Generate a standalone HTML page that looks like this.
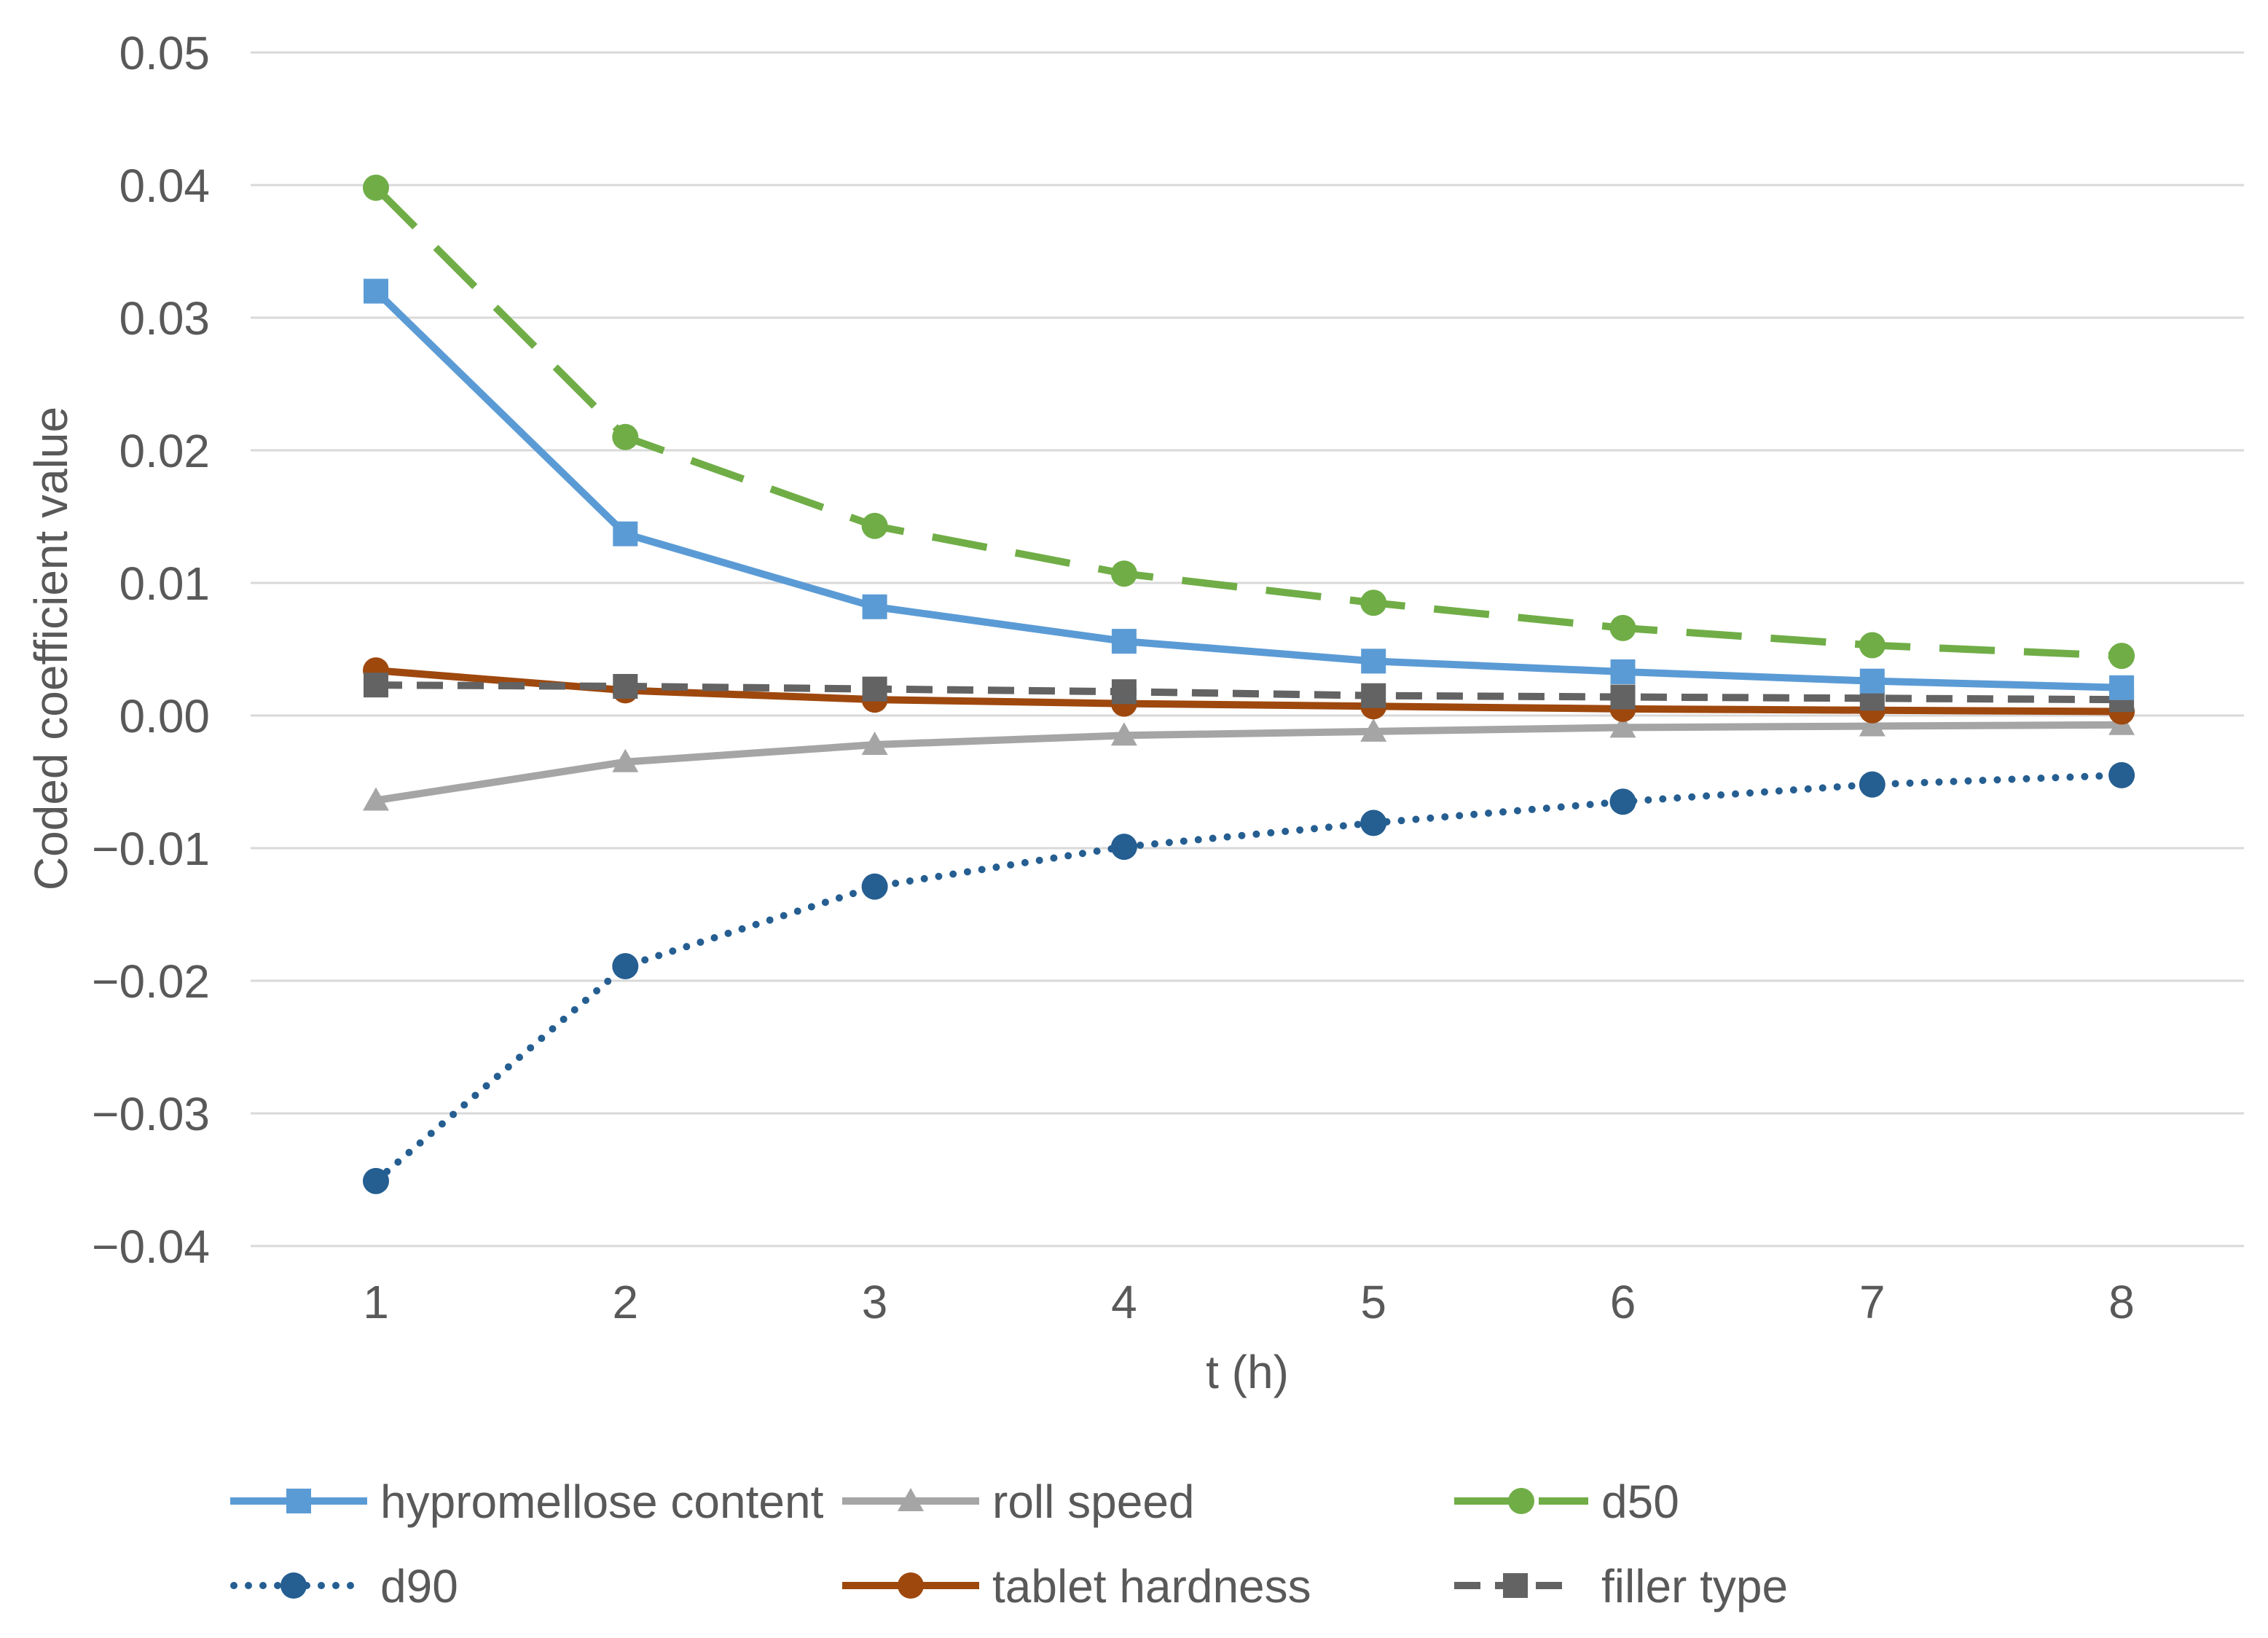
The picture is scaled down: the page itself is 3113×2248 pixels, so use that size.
<!DOCTYPE html>
<html><head><meta charset="utf-8"><style>
html,body{margin:0;padding:0;background:#fff;}
svg{display:block;font-family:"Liberation Sans",sans-serif;}
</style></head><body>
<svg id="chart" width="3113" height="2248" viewBox="0 0 3113 2248"></svg>
<script>
const categories=[1,2,3,4,5,6,7,8];
const yTicks=[0.05,0.04,0.03,0.02,0.01,0,-0.01,-0.02,-0.03,-0.04];
const yTickLabels=["0.05","0.04","0.03","0.02","0.01","0.00","\u22120.01","\u22120.02","\u22120.03","\u22120.04"];
const hypromellose=[0.032,0.0137,0.0082,0.0056,0.0041,0.0033,0.0026,0.0021];
const rollSpeed=[-0.0064,-0.0035,-0.0022,-0.0015,-0.0012,-0.0009,-0.0008,-0.0007];
const d50=[0.0398,0.021,0.0143,0.0107,0.0085,0.0066,0.0053,0.0045];
const d90=[-0.0351,-0.0189,-0.0129,-0.0099,-0.0081,-0.0065,-0.0052,-0.0045];
const tabletHardness=[0.0034,0.0019,0.0012,0.0009,0.0007,0.0005,0.0004,0.0003];
const fillerType=[0.0023,0.0022,0.002,0.0018,0.0015,0.0014,0.0013,0.0012];

const NS="http://www.w3.org/2000/svg";
const svg=document.getElementById('chart');
const FS=64;
function xs(c){return 516+(c-1)*342.3;}
function ys(v){return 982-v*18200;}
function el(tag,attrs,parent){const e=document.createElementNS(NS,tag);for(const k in attrs)e.setAttribute(k,attrs[k]);(parent||svg).appendChild(e);return e;}

yTicks.forEach((t,i)=>{
  const g=el('line',{x1:344,x2:3080,y1:ys(t),y2:ys(t),stroke:'#d9d9d9','stroke-width':3});
  
  
  const tx=el('text',{x:288,y:ys(t)+23,'text-anchor':'end','font-size':FS,fill:'#595959'});
  tx.textContent=yTickLabels[i];
  
  
});
categories.forEach(c=>{
  const tx=el('text',{x:xs(c),y:1809,'text-anchor':'middle','font-size':FS,fill:'#595959'});
  tx.textContent=String(c);
  
  
});
const xt=el('text',{x:1712,y:1905,'text-anchor':'middle','font-size':FS,fill:'#595959'});
xt.textContent='t (h)';


const yt=el('text',{x:0,y:0,'text-anchor':'middle','font-size':FS,fill:'#595959',transform:'translate(92,890) rotate(-90)'});
yt.textContent='Coded coefficient value';



const series=[
 {name:'hypromellose content',data:hypromellose,color:'#5B9BD5',dash:'',marker:'square',id:'hypromellose'},
 {name:'roll speed',data:rollSpeed,color:'#A5A5A5',dash:'',marker:'triangle',id:'roll-speed'},
 {name:'d50',data:d50,color:'#70AD47',dash:'76 40',marker:'circle',id:'d50'},
 {name:'d90',data:d90,color:'#255E91',dash:'0 20',marker:'circle',id:'d90'},
 {name:'tablet hardness',data:tabletHardness,color:'#9E480E',dash:'',marker:'circle',id:'tablet-hardness'},
 {name:'filler type',data:fillerType,color:'#636363',dash:'36 20',marker:'square',id:'filler-type'}
];
function marker(type,x,y,color,parent){
  let m;
  if(type==='square') m=el('rect',{x:x-17,y:y-17,width:34,height:34,fill:color},parent);
  else if(type==='triangle') m=el('polygon',{points:`${x},${y-18} ${x+18},${y+14} ${x-18},${y+14}`,fill:color},parent);
  else m=el('circle',{cx:x,cy:y,r:18,fill:color},parent);
  return m;
}
const order=['roll-speed','tablet-hardness','filler-type','hypromellose','d50','d90'];
order.forEach(id=>{
  const s=series.find(q=>q.id===id);
  const g=el('g',{});
  
  
  const pts=s.data.map((v,i)=>xs(categories[i])+','+ys(v)).join(' ');
  const a={points:pts,fill:'none',stroke:s.color,'stroke-width':10,'stroke-linejoin':'round'};
  if(s.dash){a['stroke-dasharray']=s.dash;}
  if(s.id==='d90')a['stroke-linecap']='round';
  const pl=el('polyline',a,g);
  
  
  s.data.forEach((v,i)=>{
    const m=marker(s.marker,xs(categories[i]),ys(v),s.color,g);
    
    
  });
});
const leg=[
 {id:'hypromellose',x1:316,x2:504,ty:2060,tx:522},
 {id:'roll-speed',x1:1156,x2:1344,ty:2060,tx:1362},
 {id:'d50',x1:1996,x2:2180,ty:2060,tx:2198},
 {id:'d90',x1:316,x2:490,ty:2176,tx:522},
 {id:'tablet-hardness',x1:1156,x2:1344,ty:2176,tx:1362},
 {id:'filler-type',x1:1996,x2:2164,ty:2176,tx:2198}
];
leg.forEach(l=>{
  const s=series.find(q=>q.id===l.id);
  const g=el('g',{});
  
  
  const a={x1:l.x1,x2:l.x2,y1:l.ty,y2:l.ty,stroke:s.color,'stroke-width':10};
  if(s.dash)a['stroke-dasharray']=s.dash;
  if(s.id==='d90'){a['stroke-linecap']='round';a.x1=l.x1+5;}
  el('line',a,g);
  marker(s.marker,(l.x1+l.x2)/2,l.ty,s.color,g);
  const t=el('text',{x:l.tx,y:l.ty+23,'font-size':FS,fill:'#595959'},g);
  t.textContent=s.name;
});
</script>
</body></html>
